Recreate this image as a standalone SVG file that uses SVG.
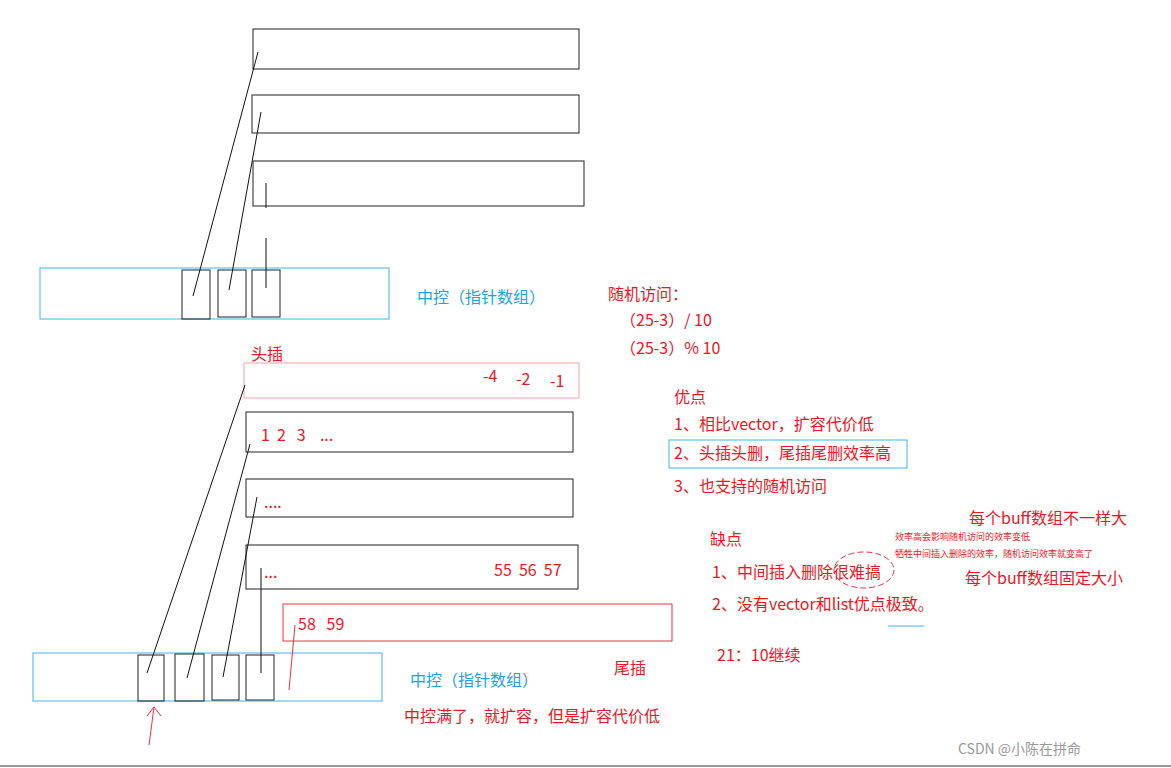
<svg xmlns="http://www.w3.org/2000/svg" width="1171" height="768" viewBox="0 0 1171 768">
<style>
text{font-family:"Microsoft YaHei","Noto Sans CJK SC",sans-serif;font-size:16px}
.r{fill:#f0141e}.b{fill:#1aa3e8}
.bk{fill:none;stroke:#222;stroke-width:1}
.bl{fill:none;stroke:#3cb6ea;stroke-width:1}
.rd{fill:none;stroke:#f03040;stroke-width:1}
.ln{stroke:#111;stroke-width:1;fill:none}
</style>
<rect width="1171" height="768" fill="#fff"/>
<g id="top-buffers">
<rect class="bk" x="253" y="29" width="326" height="40"/>
<rect class="bk" x="252" y="95" width="327" height="38"/>
<rect class="bk" x="253" y="161" width="331" height="45"/>
</g>
<g id="top-map">
<rect class="bl" x="40" y="268" width="349" height="51"/>
<rect class="bk" x="182" y="270" width="28" height="49"/>
<rect class="bk" x="218" y="270" width="28" height="47"/>
<rect class="bk" x="252" y="270" width="28" height="47"/>
</g>
<g id="bottom-buffers">
<rect x="244" y="363" width="335" height="35" fill="none" stroke="#f7a0a8"/>
<rect class="bk" x="246" y="412" width="327" height="40"/>
<rect class="bk" x="246" y="479" width="327" height="38"/>
<rect class="bk" x="246" y="545" width="332" height="44"/>
<rect class="rd" x="283" y="604" width="389" height="37"/>
</g>
<g id="bottom-map">
<rect class="bl" x="33" y="653" width="349" height="48"/>
<rect class="bk" x="138" y="655" width="26" height="46"/>
<rect class="bk" x="175" y="654" width="29" height="47"/>
<rect class="bk" x="212" y="655" width="27" height="45"/>
<rect class="bk" x="246" y="655" width="28" height="45"/>
</g>
<g id="connectors">
<line class="ln" x1="258" y1="52" x2="193" y2="296"/>
<line class="ln" x1="261" y1="112" x2="229" y2="290"/>
<line class="ln" x1="266" y1="183" x2="266" y2="208"/>
<line class="ln" x1="266" y1="238" x2="266" y2="288"/>
<line class="ln" x1="245" y1="385" x2="147" y2="673"/>
<line class="ln" x1="250" y1="444" x2="187" y2="678"/>
<line class="ln" x1="257" y1="497" x2="223" y2="677"/>
<line class="ln" x1="261" y1="568" x2="261" y2="673"/>
<line x1="295" y1="625" x2="289" y2="690" stroke="#f03040"/>
<path d="M149 745 L154 707 M147 716 L154 707 L161 716" fill="none" stroke="#f03040"/>
<line x1="888" y1="626" x2="924" y2="626" stroke="#3cb6ea"/>
<rect class="bl" x="669" y="440" width="238" height="28"/>
<ellipse cx="864" cy="570" rx="30" ry="18" fill="none" stroke="#f03040" stroke-dasharray="6 3"/>
</g>
<text x="417" y="303" class="b">中控（指针数组）</text>
<text x="608" y="300" class="r">随机访问：</text>
<text x="620" y="326" class="r">（25-3）/ 10</text>
<text x="620" y="354" class="r">（25-3）% 10</text>
<text x="251" y="360" class="r">头插</text>
<text x="483" y="382" class="r">-4</text>
<text x="516" y="385" class="r">-2</text>
<text x="550" y="387" class="r">-1</text>
<text x="261" y="441" class="r" xml:space="preserve">1  2   3    ...</text>
<text x="264" y="508" class="r">....</text>
<text x="264" y="578" class="r">...</text>
<text x="494" y="576" class="r" xml:space="preserve">55  56  57</text>
<text x="298" y="630" class="r" xml:space="preserve">58   59</text>
<text x="674" y="403" class="r">优点</text>
<text x="674" y="430" class="r">1、相比vector，扩容代价低</text>
<text x="674" y="459" class="r">2、头插头删，尾插尾删效率高</text>
<text x="674" y="492" class="r">3、也支持的随机访问</text>
<text x="710" y="545" class="r">缺点</text>
<text x="712" y="578" class="r">1、中间插入删除很难搞</text>
<text x="712" y="610" class="r">2、没有vector和list优点极致。</text>
<text x="717" y="661" class="r">21：10继续</text>
<text x="614" y="674" class="r">尾插</text>
<text x="410" y="686" class="b">中控（指针数组）</text>
<text x="404" y="722" class="r">中控满了，就扩容，但是扩容代价低</text>
<text x="969" y="524" class="r">每个buff数组不一样大</text>
<text x="895" y="540" class="r" style="font-size:9px">效率高会影响随机访问的效率变低</text>
<text x="895" y="557" class="r" style="font-size:9px">牺牲中间插入删除的效率，随机访问效率就变高了</text>
<text x="965" y="584" class="r">每个buff数组固定大小</text>
<text x="958" y="754" style="font-size:14px;fill:#999">CSDN @小陈在拼命</text>
<line x1="0" y1="766" x2="1171" y2="766" stroke="#999" stroke-width="2"/>
</svg>
